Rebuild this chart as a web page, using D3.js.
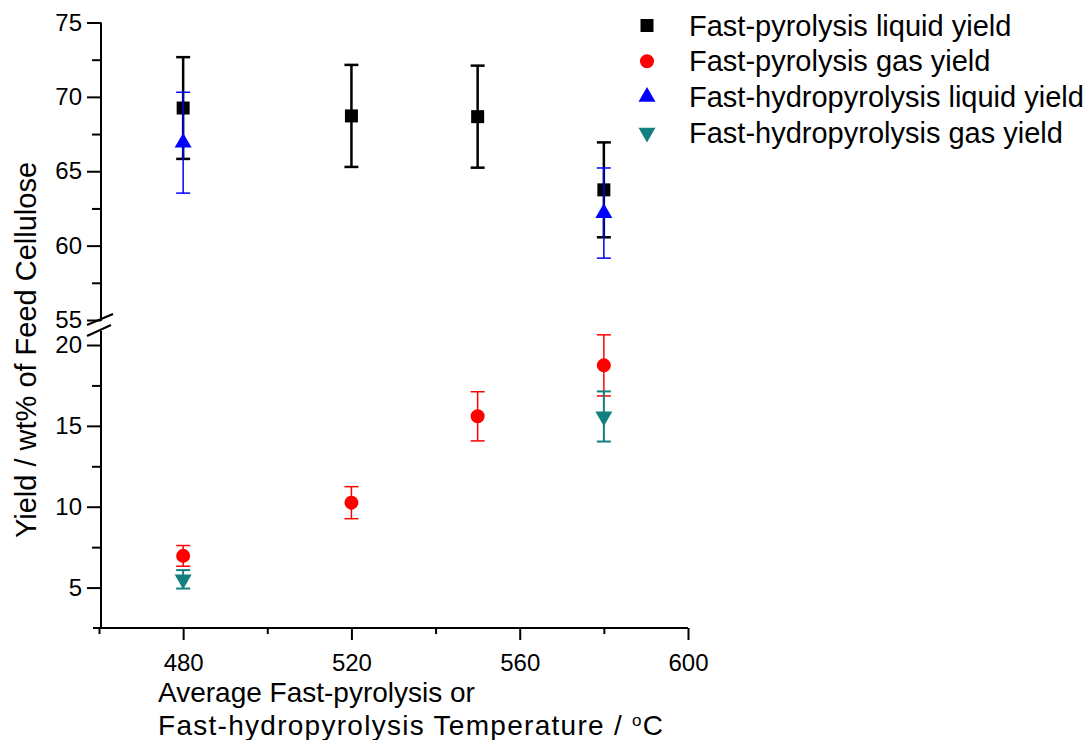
<!DOCTYPE html>
<meta charset="utf-8">
<style>
  body { margin: 0; background: #fff; }
  text { font-family: "Liberation Sans", Arial, sans-serif; fill: #000; }
</style>
<div id="chart"></div>
<script src="https://d3js.org/d3.v7.min.js"></script>
<script>
// temperatures (x) and yields (y) with +/- error
var pyroLiquidT = [480, 520, 550, 580];
var pyroLiquid = [69.25, 68.72, 68.67, 63.75];
var pyroLiquidErr = [3.42, 3.43, 3.43, 3.19];

var pyroGasT = [480, 520, 550, 580];
var pyroGas = [6.96, 10.25, 15.59, 18.74];
var pyroGasErr = [0.64, 0.99, 1.52, 1.89];

var hydroLiquidT = [480, 580];
var hydroLiquid = [66.92, 62.19];
var hydroLiquidErr = [3.39, 3.03];

var hydroGasT = [480, 580];
var hydroGas = [5.51, 15.58];
var hydroGasErr = [0.57, 1.55];

var xTicks = [480, 520, 560, 600];
var xMinor = [460, 500, 540, 580];
var upperTicks = [55, 60, 65, 70, 75];
var upperMinor = [57.5, 62.5, 67.5, 72.5];
var lowerTicks = [5, 10, 15, 20];
var lowerMinor = [7.5, 12.5, 17.5];

var legendLabels = ["Fast-pyrolysis liquid yield", "Fast-pyrolysis gas yield",
                    "Fast-hydropyrolysis liquid yield", "Fast-hydropyrolysis gas yield"];

var width = 1085, height = 740;
var axisX = 101;

var svg = d3.select("#chart").append("svg")
    .attr("width", width)
    .attr("height", height);

var x = d3.scaleLinear().domain([460, 600]).range([99, 688]);
var yUp = d3.scaleLinear().domain([55, 75]).range([320, 22.5]);
var yLow = d3.scaleLinear().domain([2.5, 20]).range([628, 345]);

function styleAxis(g) {
    g.selectAll("line").attr("stroke", "#000").attr("stroke-width", 2);
    g.selectAll("path").remove();
    g.selectAll("text").style("font-size", "24px").attr("fill", "#000");
}

// x axis
var xg = svg.append("g").attr("transform", "translate(0,628)");
xg.append("line").attr("x1", 93).attr("x2", x(600)).attr("stroke", "#000").attr("stroke-width", 2);
xg.append("g").call(d3.axisBottom(x).tickValues(xTicks).tickSize(12).tickPadding(14).tickFormat(d3.format("d")))
    .call(styleAxis);
xg.append("g").call(d3.axisBottom(x).tickValues(xMinor).tickSize(6).tickFormat(""))
    .call(styleAxis);

// y axis, upper part
var yu = svg.append("g").attr("transform", "translate(" + axisX + ",0)");
yu.append("line").attr("y1", yUp(75)).attr("y2", 321).attr("stroke", "#000").attr("stroke-width", 2);
yu.append("g").call(d3.axisLeft(yUp).tickValues(upperTicks).tickSize(14).tickPadding(5)).call(styleAxis);
yu.append("g").call(d3.axisLeft(yUp).tickValues(upperMinor).tickSize(9).tickFormat("")).call(styleAxis);

// y axis, lower part
var yl = svg.append("g").attr("transform", "translate(" + axisX + ",0)");
yl.append("line").attr("y1", 331).attr("y2", 629).attr("stroke", "#000").attr("stroke-width", 2);
yl.append("g").call(d3.axisLeft(yLow).tickValues(lowerTicks).tickSize(14).tickPadding(5)).call(styleAxis);
yl.append("g").call(d3.axisLeft(yLow).tickValues(lowerMinor).tickSize(9).tickFormat("")).call(styleAxis);

// break marks
svg.append("line").attr("x1", 87).attr("y1", 325).attr("x2", 113).attr("y2", 314)
    .attr("stroke", "#000").attr("stroke-width", 2);
svg.append("line").attr("x1", 87).attr("y1", 336).attr("x2", 111).attr("y2", 325)
    .attr("stroke", "#000").attr("stroke-width", 2);

// axis titles
svg.append("text")
    .attr("transform", "translate(36,350) rotate(-90)")
    .attr("text-anchor", "middle")
    .style("font-size", "29px")
    .text("Yield / wt% of Feed Cellulose");

svg.append("text").attr("x", 158).attr("y", 702).style("font-size", "28px")
    .text("Average Fast-pyrolysis or");
var t2 = svg.append("text").attr("x", 158).attr("y", 735).style("font-size", "28px")
    .attr("textLength", 505).attr("lengthAdjust", "spacing");
t2.append("tspan").text("Fast-hydropyrolysis Temperature / ");
t2.append("tspan").attr("dy", -9).style("font-size", "17px").text("o");
t2.append("tspan").attr("dy", 9).text("C");

var series = [
    {t: pyroLiquidT, v: pyroLiquid, e: pyroLiquidErr, y: yUp, color: "#000000", sym: d3.symbolSquare, size: 169, rot: 0, sw: 2.5},
    {t: pyroGasT, v: pyroGas, e: pyroGasErr, y: yLow, color: "#ff0000", sym: d3.symbolCircle, size: 154, rot: 0, sw: 1.5},
    {t: hydroLiquidT, v: hydroLiquid, e: hydroLiquidErr, y: yUp, color: "#0000ff", sym: d3.symbolTriangle, size: 125, rot: 0, sw: 1.5},
    {t: hydroGasT, v: hydroGas, e: hydroGasErr, y: yLow, color: "#138080", sym: d3.symbolTriangle, size: 125, rot: 180, sw: 2}
];

series.forEach(function(s, k) {
    var pts = s.t.map(function(t, i) { return {t: t, v: s.v[i], e: s.e[i]}; });
    var g = svg.append("g");
    var bars = g.selectAll(".eb").data(pts).enter().append("g")
        .attr("stroke", s.color).attr("stroke-width", s.sw);
    bars.append("line")
        .attr("x1", function(d) { return x(d.t); }).attr("x2", function(d) { return x(d.t); })
        .attr("y1", function(d) { return s.y(d.v + d.e); })
        .attr("y2", function(d) { return s.y(d.v - d.e); });
    [1, -1].forEach(function(sign) {
        bars.append("line")
            .attr("x1", function(d) { return x(d.t) - 7; }).attr("x2", function(d) { return x(d.t) + 7; })
            .attr("y1", function(d) { return s.y(d.v + sign * d.e); })
            .attr("y2", function(d) { return s.y(d.v + sign * d.e); });
    });
    g.selectAll(".pt").data(pts).enter().append("path")
        .attr("d", d3.symbol().type(s.sym).size(s.size))
        .attr("transform", function(d) {
            return "translate(" + x(d.t) + "," + s.y(d.v) + ") rotate(" + s.rot + ")";
        })
        .attr("fill", s.color);

    // legend entry
    var ly = 25.5 + k * 35.7;
    svg.append("path")
        .attr("d", d3.symbol().type(s.sym).size(s.size))
        .attr("transform", "translate(647," + ly + ") rotate(" + s.rot + ")")
        .attr("fill", s.color);
    svg.append("text").attr("x", 689).attr("y", ly + 10)
        .style("font-size", "29px")
        .text(legendLabels[k]);
});
</script>
